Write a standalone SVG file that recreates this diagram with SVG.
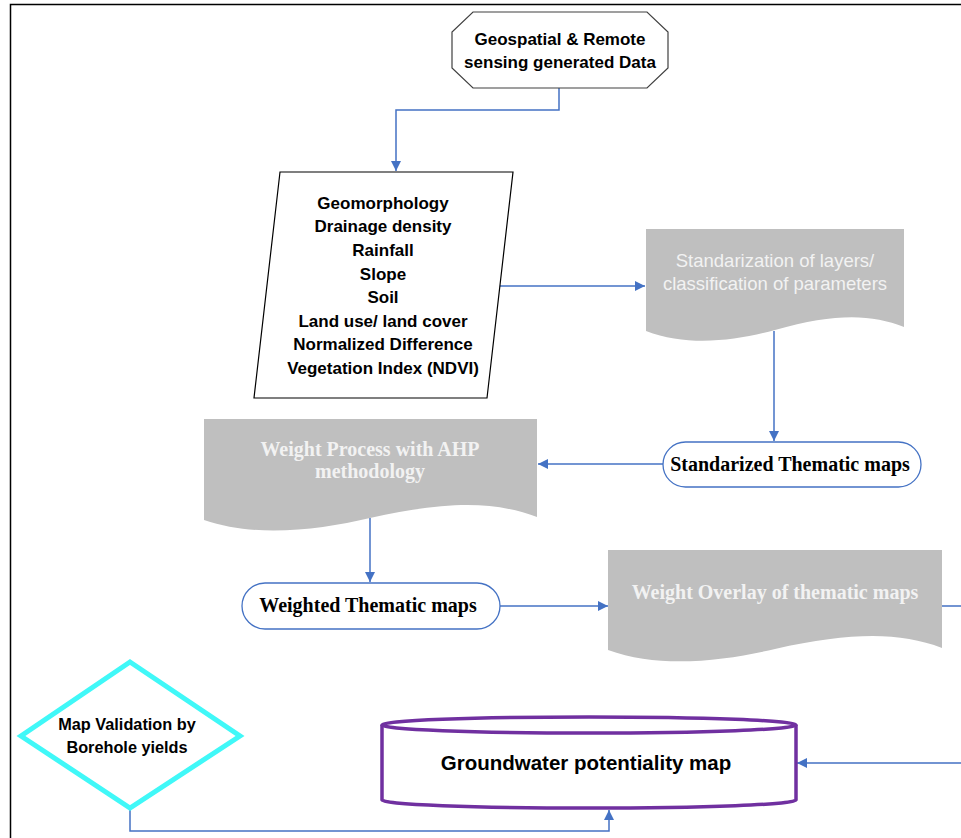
<svg xmlns="http://www.w3.org/2000/svg" width="961" height="838" viewBox="0 0 961 838">
<style>
.sans{font-family:"Liberation Sans",Arial,sans-serif;font-weight:bold;fill:#000}
.serif{font-family:"Liberation Serif","Times New Roman",serif;font-weight:bold}
.doc{fill:#BFBFBF;stroke:none}
.doct{fill:#F2F2F2}
.pill{fill:#fff;stroke:#4472C4;stroke-width:1.3}
.conn{fill:none;stroke:#4472C4;stroke-width:1.5}
</style>
<defs>
<marker id="arr" viewBox="0 0 10 10" refX="10" refY="5" markerWidth="10" markerHeight="10" markerUnits="userSpaceOnUse" orient="auto">
<path d="M0,0 L10,5 L0,10 Z" fill="#4472C4"/>
</marker>
</defs>
<rect width="961" height="838" fill="#fff"/>
<path d="M10.5,838 V4.5 H961" fill="none" stroke="#000" stroke-width="1.5"/>

<g id="connectors">
<path class="conn" d="M559,88 V110 H396 V171" marker-end="url(#arr)"/>
<path class="conn" d="M499,286 H645" marker-end="url(#arr)"/>
<path class="conn" d="M774,331 V441" marker-end="url(#arr)"/>
<path class="conn" d="M663,464 H538" marker-end="url(#arr)"/>
<path class="conn" d="M370,518 V582" marker-end="url(#arr)"/>
<path class="conn" d="M500,606 H608" marker-end="url(#arr)"/>
<path class="conn" d="M942,606 H975 V763 H797" marker-end="url(#arr)"/>
<path class="conn" d="M130,808 V831 H609 V810" marker-end="url(#arr)"/>
</g>

<g id="node-geospatial">
<polygon points="473,12 647,12 668,32 668,68 647,88 473,88 452,68 452,32" fill="#fff" stroke="#404040" stroke-width="1.2"/>
<text class="sans" font-size="17" x="560" y="45" text-anchor="middle">Geospatial &amp; Remote</text>
<text class="sans" font-size="17" x="560" y="68" text-anchor="middle">sensing generated Data</text>
</g>

<g id="node-parameters">
<polygon points="280,172 513,172 487,398 254,398" fill="#fff" stroke="#000" stroke-width="1.2"/>
<g class="sans" font-size="17" text-anchor="middle">
<text x="383" y="209">Geomorphology</text>
<text x="383" y="232">Drainage density</text>
<text x="383" y="256">Rainfall</text>
<text x="383" y="280">Slope</text>
<text x="383" y="303">Soil</text>
<text x="383" y="327">Land use/ land cover</text>
<text x="383" y="350">Normalized Difference</text>
<text x="383" y="374">Vegetation Index (NDVI)</text>
</g>
</g>

<g id="node-standardization">
<path class="doc" d="M646,229 H904 V327 C871,314 835,313 775,330 C735,341 688,347 646,331 Z"/>
<g class="doct" font-family="Liberation Sans, Arial, sans-serif" font-size="18.5" text-anchor="middle">
<text x="775" y="267">Standarization of layers/</text>
<text x="775" y="290">classification of parameters</text>
</g>
</g>

<g id="node-standardized-maps">
<rect class="pill" x="663" y="442" width="258" height="45" rx="22.5"/>
<text class="serif" font-size="20" x="790" y="471" text-anchor="middle" fill="#000">Standarized Thematic maps</text>
</g>

<g id="node-weight-process">
<path class="doc" d="M204,419 H537 V517 C494,501 447,501 370,518 C318,530 256,538 204,520 Z"/>
<g class="serif doct" font-size="20" text-anchor="middle">
<text x="370" y="456">Weight Process with AHP</text>
<text x="370" y="478">methodology</text>
</g>
</g>

<g id="node-weighted-maps">
<rect class="pill" x="242" y="583" width="258" height="46" rx="23"/>
<text class="serif" font-size="20" x="368" y="612" text-anchor="middle" fill="#000">Weighted Thematic maps</text>
</g>

<g id="node-overlay">
<path class="doc" d="M608,550 H942 V648 C899,632 852,632 775,649 C723,661 660,669 608,650 Z"/>
<text class="serif doct" font-size="20" x="775" y="599" text-anchor="middle">Weight Overlay of thematic maps</text>
</g>

<g id="node-groundwater">
<path d="M382,725 V800 A207,8 0 0 0 796,800 V725" fill="#fff" stroke="#7030A0" stroke-width="3.5"/>
<ellipse cx="589" cy="725" rx="207" ry="8" fill="#fff" stroke="#7030A0" stroke-width="3.5"/>
<text class="sans" font-size="20.5" x="586" y="770" text-anchor="middle">Groundwater potentiality map</text>
</g>

<g id="node-validation">
<polygon points="130,662 240,736 130,808 21,736" fill="#fff" stroke="#40F8F8" stroke-width="5"/>
<text class="sans" font-size="16.3" x="127" y="730" text-anchor="middle">Map Validation by</text>
<text class="sans" font-size="16.3" x="127" y="753" text-anchor="middle">Borehole yields</text>
</g>
</svg>
